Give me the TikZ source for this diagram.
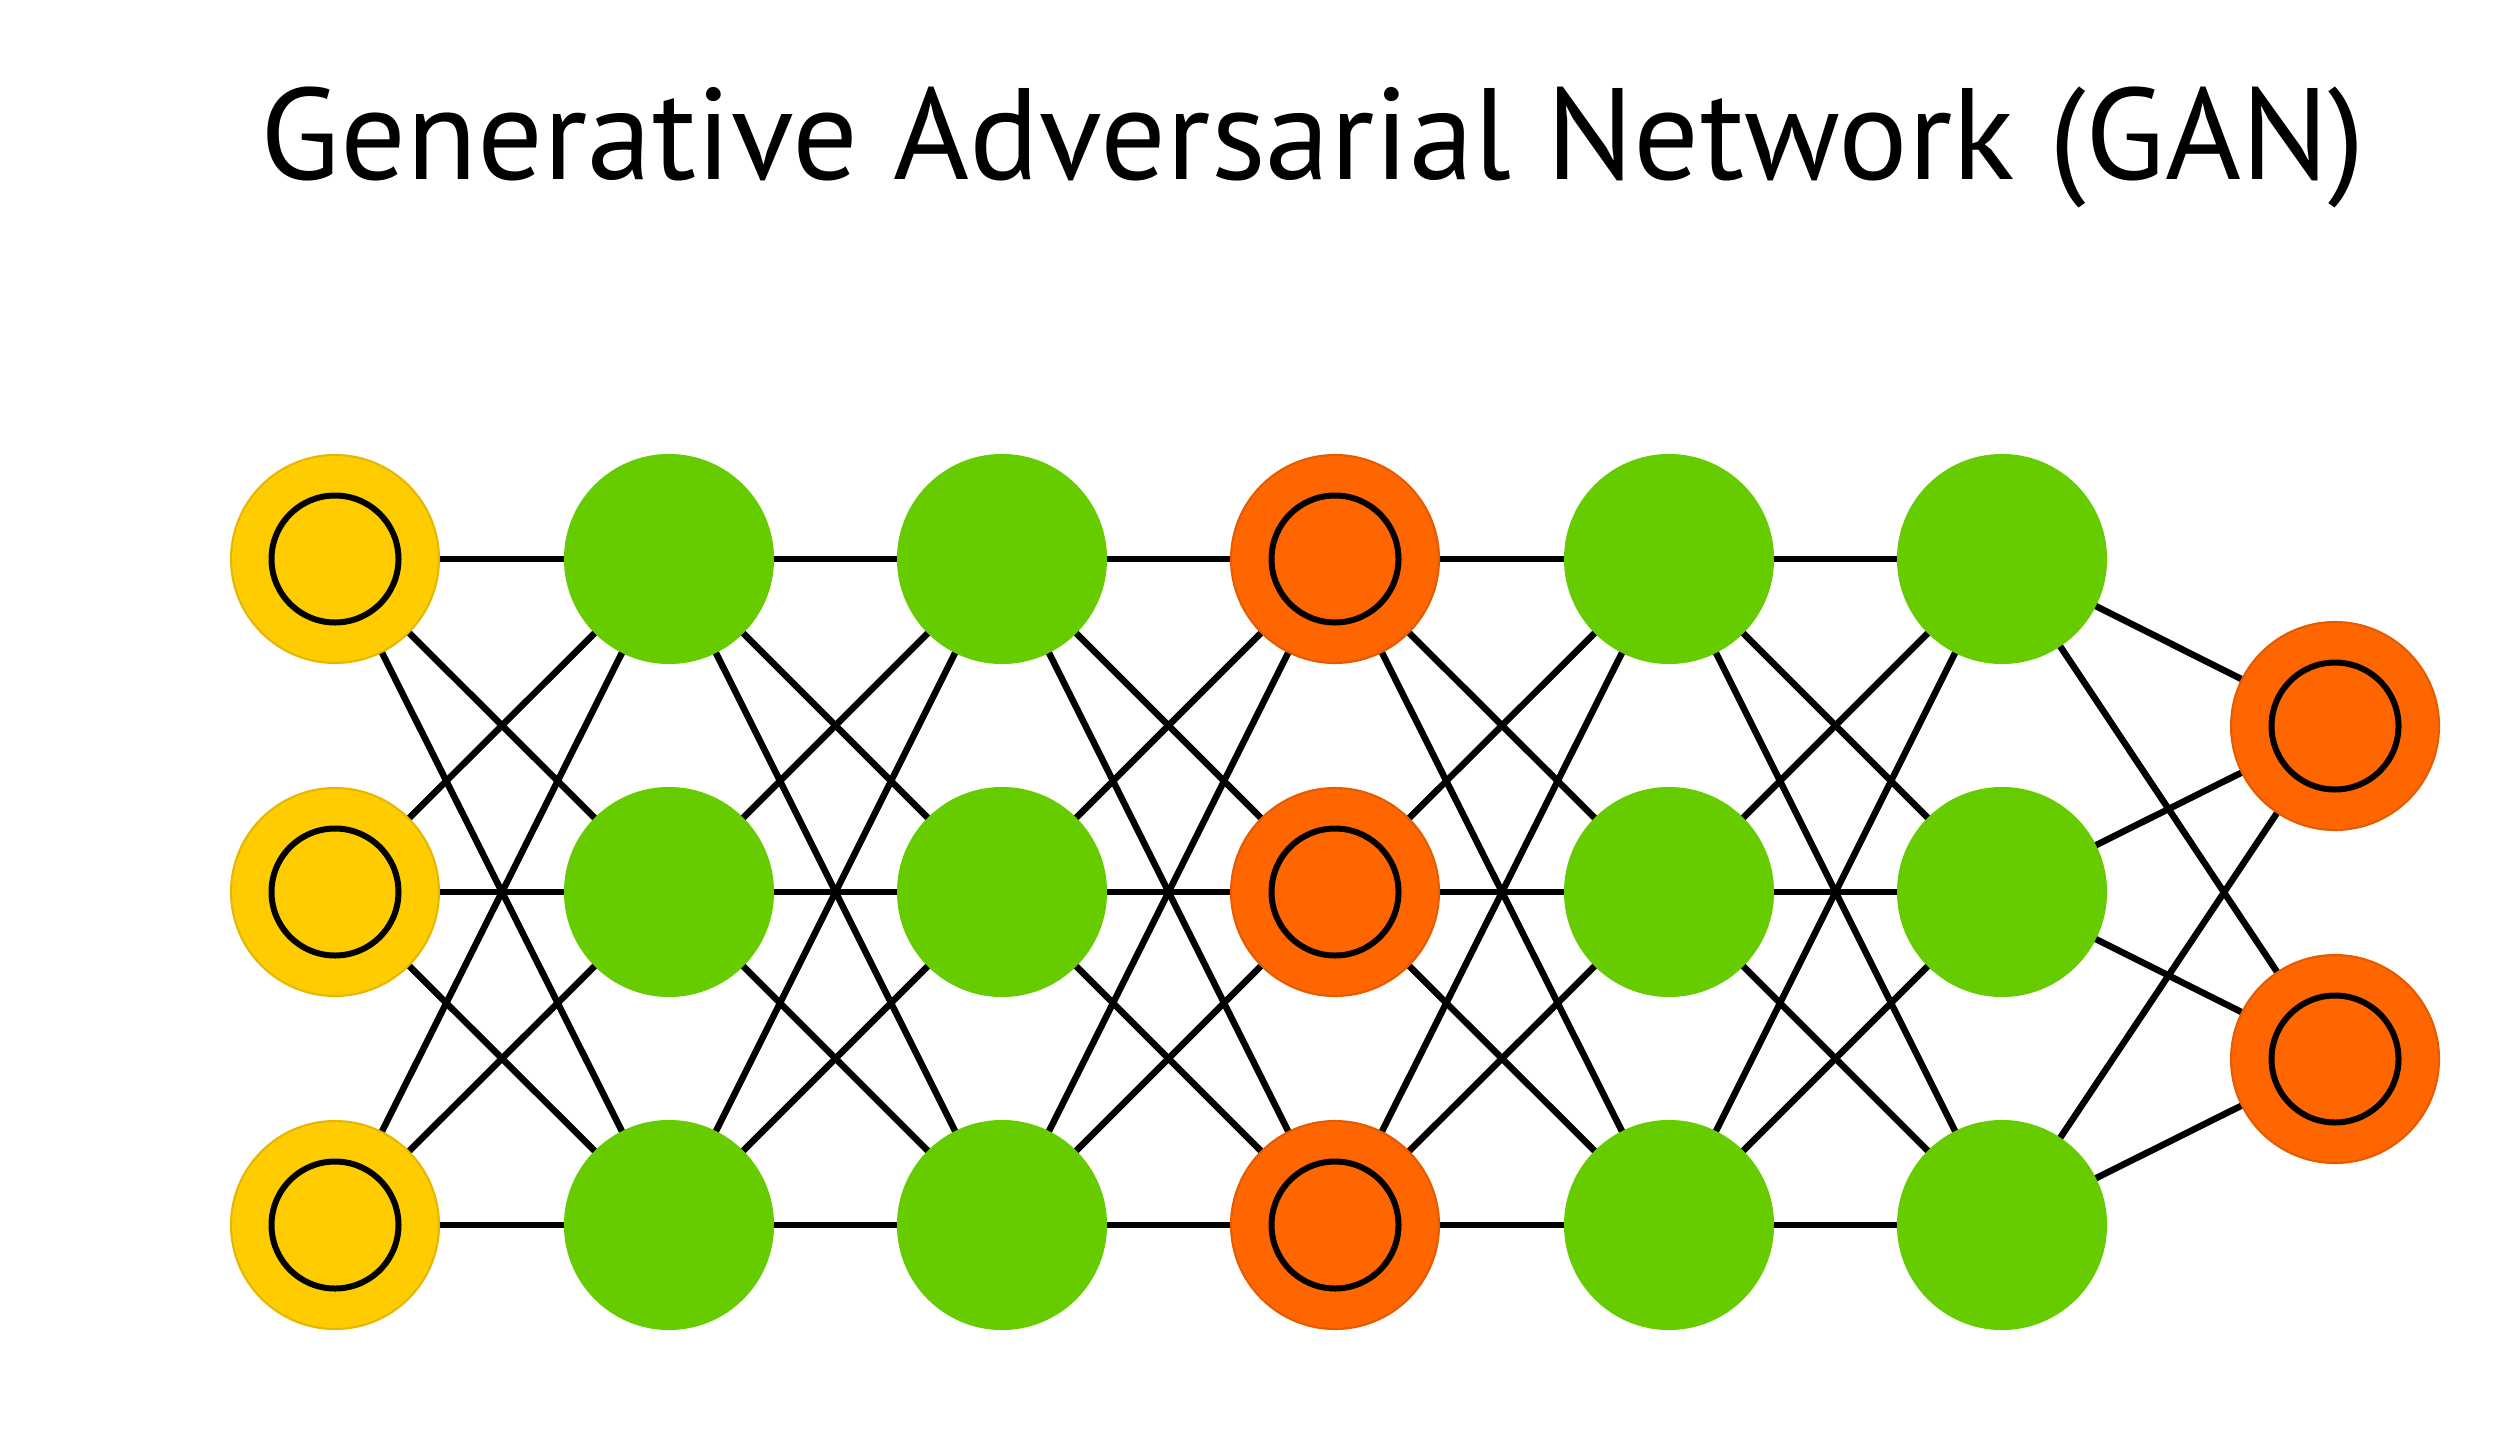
\documentclass[tikz,border=0pt]{standalone}
\usepackage{fontspec}
\setmainfont{PT Sans}
\definecolor{netgreen}{HTML}{66CC00}
\definecolor{netyellow}{HTML}{FFCC00}
\definecolor{netorange}{HTML}{FF6600}

\begin{document}
\begin{tikzpicture}[x=1cm,y=-1cm,
    neuron/.style={circle,minimum size=2.08cm,inner sep=0pt,line width=0.6pt},
    hidden/.style={neuron,fill=netgreen,draw=netgreen},
    ring/.style={path picture={\draw[black,line width=0.06cm] (path picture bounding box.center) circle (0.635);}},
    input/.style={neuron,ring,fill=netyellow,draw=netyellow!90!black},
    output/.style={neuron,ring,fill=netorange,draw=netorange!90!black},
    link/.style={line width=0.065cm}]
      \useasboundingbox (0,0) rectangle (24.98,14.55);

      \node [anchor=base] (title) at (13.13,1.80) {\fontsize{37}{40}\selectfont Generative Adversarial Network (GAN)};

      % generator
      \node [input] (i1) at (3.35,5.59) {};
      \node [input] (i2) at (3.35,8.92) {};
      \node [input] (i3) at (3.35,12.25) {};

      \node [hidden] (a1) at (6.69,5.59) {};
      \node [hidden] (a2) at (6.69,8.92) {};
      \node [hidden] (a3) at (6.69,12.25) {};

      \node [hidden] (b1) at (10.02,5.59) {};
      \node [hidden] (b2) at (10.02,8.92) {};
      \node [hidden] (b3) at (10.02,12.25) {};

      % generated sample
      \node [output] (g1) at (13.35,5.59) {};
      \node [output] (g2) at (13.35,8.92) {};
      \node [output] (g3) at (13.35,12.25) {};

      % discriminator
      \node [hidden] (c1) at (16.69,5.59) {};
      \node [hidden] (c2) at (16.69,8.92) {};
      \node [hidden] (c3) at (16.69,12.25) {};

      \node [hidden] (d1) at (20.02,5.59) {};
      \node [hidden] (d2) at (20.02,8.92) {};
      \node [hidden] (d3) at (20.02,12.25) {};

      \node [output] (o1) at (23.35,7.26) {};
      \node [output] (o2) at (23.35,10.59) {};

      \foreach \l/\r in {i/a,a/b,b/g,g/c,c/d}
        \foreach \m in {1,2,3}
          \foreach \n in {1,2,3}
            \draw [link] (\l\m) -- (\r\n);

      \foreach \m in {1,2,3}
        \foreach \n in {1,2}
          \draw [link] (d\m) -- (o\n);
    \end{tikzpicture}
\end{document}
